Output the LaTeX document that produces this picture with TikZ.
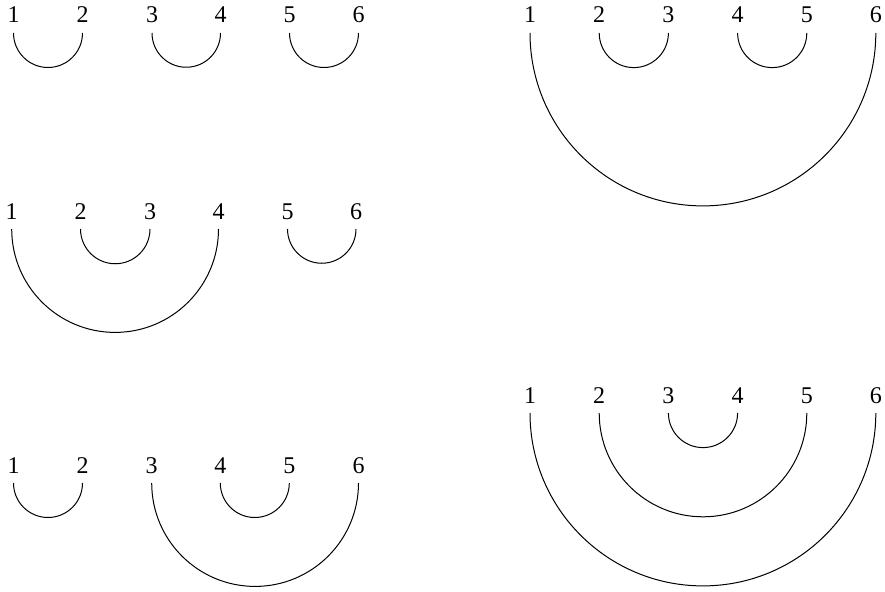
\documentclass[tikz,border=0pt]{standalone}
\usepackage{fontspec}
\setmainfont{Liberation Serif}
\usetikzlibrary{calc}
\tikzset{
  lab/.style={inner sep=0pt, anchor=base, font=\fontsize{24}{28}\selectfont},
  link/.style={draw=black, line width=1pt}
}
\newcommand\mgroup[3]{%
  \foreach \xx [count=\i] in {#3} {
    \coordinate (#1\i) at (\xx,#2);
    \node[lab] (l#1\i) at (\xx,#2-10) {\i};
  }%
}
\newcommand\mlink[3]{%
  \draw[link] let \p1=(#1#2), \p2=(#1#3), \n1={(\x2-\x1)/2} in
    (#1#2) arc[start angle=180, end angle=360, radius=\n1];%
}
\begin{document}
\begin{tikzpicture}[x=1pt, y=-1pt]
\useasboundingbox (0,0) rectangle (885,591);
% top-left
\mgroup{A}{33}{13.5,82.5,152,220.5,289.5,358.5}
\mlink{A}{1}{2}
\mlink{A}{3}{4}
\mlink{A}{5}{6}
% middle-left
\mgroup{B}{229}{11.7,80.5,150,218.5,287.5,356}
\mlink{B}{1}{4}
\mlink{B}{2}{3}
\mlink{B}{5}{6}
% bottom-left
\mgroup{C}{483}{13.5,82.5,151.7,220.3,289.3,358.5}
\mlink{C}{1}{2}
\mlink{C}{3}{6}
\mlink{C}{4}{5}
% top-right
\mgroup{D}{33}{530,599.2,668.4,737.6,806.8,875.8}
\mlink{D}{1}{6}
\mlink{D}{2}{3}
\mlink{D}{4}{5}
% bottom-right
\mgroup{E}{413}{530,599.2,668.4,737.6,806.8,875.8}
\mlink{E}{1}{6}
\mlink{E}{2}{5}
\mlink{E}{3}{4}
\end{tikzpicture}
\end{document}
